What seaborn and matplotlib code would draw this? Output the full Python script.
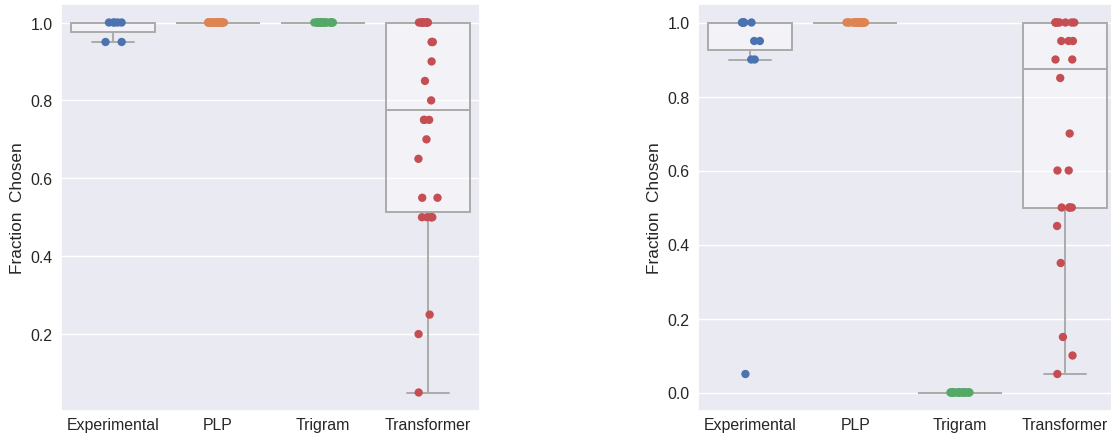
import numpy as np
import pandas as pd
import matplotlib
matplotlib.use("Agg")
import matplotlib.pyplot as plt
import seaborn as sns

# Models compared in each panel
models = ["Experimental", "PLP", "Trigram", "Transformer"]

# Left panel: fraction of trials in which each model's choice was picked
left_experimental = [1.0, 1.0, 1.0, 1.0, 1.0, 0.95, 0.95]
left_plp = [1.0, 1.0, 1.0, 1.0, 1.0, 1.0, 1.0, 1.0, 1.0, 1.0,
            1.0, 1.0, 1.0, 1.0, 1.0, 1.0, 1.0, 1.0, 1.0, 1.0]
left_trigram = [1.0, 1.0, 1.0, 1.0, 1.0, 1.0, 1.0, 1.0, 1.0, 1.0,
                1.0, 1.0, 1.0, 1.0, 1.0, 1.0, 1.0, 1.0, 1.0, 1.0]
left_transformer = [1.0, 1.0, 1.0, 1.0, 1.0, 1.0, 1.0, 1.0, 1.0,
                    0.95, 0.95, 0.95, 0.9, 0.85, 0.8, 0.75, 0.75, 0.75,
                    0.7, 0.65, 0.55, 0.55, 0.5, 0.5, 0.5, 0.5, 0.5,
                    0.25, 0.2, 0.05]

# Right panel
right_experimental = [1.0, 1.0, 1.0, 1.0, 1.0, 1.0, 0.95, 0.95, 0.9, 0.9, 0.05]
right_plp = [1.0, 1.0, 1.0, 1.0, 1.0, 1.0, 1.0, 1.0, 1.0, 1.0,
             1.0, 1.0, 1.0, 1.0, 1.0, 1.0, 1.0, 1.0, 1.0, 1.0]
right_trigram = [0.0, 0.0, 0.0, 0.0, 0.0, 0.0, 0.0, 0.0, 0.0, 0.0,
                 0.0, 0.0, 0.0, 0.0, 0.0, 0.0, 0.0, 0.0, 0.0, 0.0]
right_transformer = [1.0, 1.0, 1.0, 1.0, 1.0, 1.0, 1.0, 1.0,
                     0.95, 0.95, 0.95, 0.9, 0.9, 0.85, 0.7, 0.6, 0.6,
                     0.5, 0.5, 0.5, 0.5, 0.45, 0.35, 0.15, 0.1, 0.05]

y_label = "Fraction  Chosen"


def to_frame(series):
    rows = []
    for name, values in zip(models, series):
        for v in values:
            rows.append({"model": name, "fraction": v})
    return pd.DataFrame(rows)


left_df = to_frame([left_experimental, left_plp, left_trigram, left_transformer])
right_df = to_frame([right_experimental, right_plp, right_trigram, right_transformer])

sns.set_theme(style="darkgrid")
plt.rcParams["font.family"] = ["Liberation Sans", "DejaVu Sans"]

fig = plt.figure(figsize=(11.11, 4.39), dpi=100)
W, H = 1111.0, 439.0
ax_left = fig.add_axes([61 / W, (H - 412) / H, 419 / W, 407 / H])
ax_right = fig.add_axes([698 / W, (H - 412) / H, 419 / W, 407 / H])

box_line = "#ababab"
np.random.seed(3)

for ax, df in [(ax_left, left_df), (ax_right, right_df)]:
    sns.boxplot(data=df, x="model", y="fraction", order=models,
                color="white", linecolor=box_line, linewidth=1.4,
                showfliers=False, ax=ax)
    for patch in ax.patches:
        patch.set_facecolor((1, 1, 1, 0.4))
        patch.set_edgecolor(box_line)
    sns.stripplot(data=df, x="model", y="fraction", order=models,
                  hue="model", hue_order=models, palette="deep",
                  size=6, jitter=True, legend=False, zorder=3, ax=ax)
    ax.set_xlabel("")
    ax.set_ylabel(y_label, fontsize=12.4, labelpad=4)
    ax.tick_params(axis="both", labelsize=11.4, length=0)
    ax.tick_params(axis="x", pad=4.5)
    ax.tick_params(axis="y", pad=6)

fig.savefig("out.png", dpi=100)
